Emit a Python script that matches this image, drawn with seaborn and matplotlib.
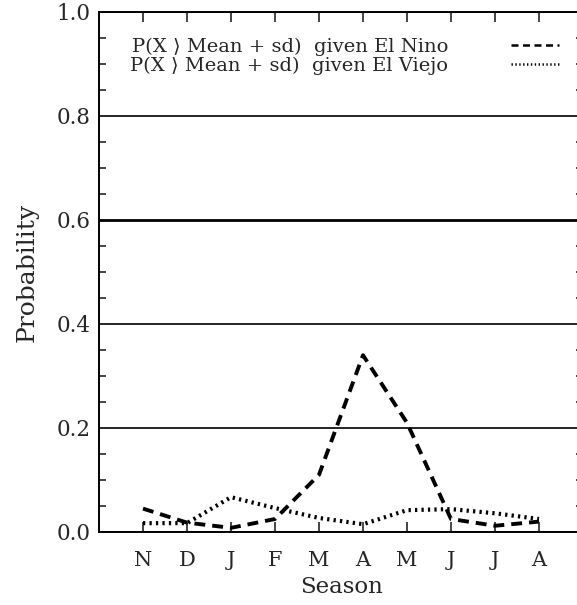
import numpy as np
import pandas as pd
import matplotlib
matplotlib.use('Agg')
import matplotlib.pyplot as plt
from matplotlib.ticker import MultipleLocator, FormatStrFormatter
import seaborn as sns

# valeurs
seasons = ['N', 'D', 'J', 'F', 'M', 'A', 'M', 'J', 'J', 'A']
x_pos = np.arange(1, len(seasons) + 1)
p_nino = [0.045, 0.018, 0.008, 0.025, 0.11, 0.34, 0.21, 0.025, 0.012, 0.02]
p_viejo = [0.017, 0.017, 0.067, 0.046, 0.027, 0.015, 0.042, 0.044, 0.036, 0.025]

lab_nino = 'P(X \u27e9 Mean + sd)  given El Nino'
lab_viejo = 'P(X \u27e9 Mean + sd)  given El Viejo'

df = pd.DataFrame({'x': np.concatenate([x_pos, x_pos]),
                   'p': p_nino + p_viejo,
                   'serie': [lab_nino] * len(x_pos) + [lab_viejo] * len(x_pos)})

sns.set_style('ticks')
plt.rcParams['font.family'] = ['DejaVu Serif', 'DejaVu Sans']

fig = plt.figure(figsize=(5.77, 6.05), dpi=100)
ax = fig.add_axes([99 / 577, 73 / 605, 484 / 577, 520 / 605])

sns.lineplot(data=df[df['serie'] == lab_nino], x='x', y='p', ax=ax, color='black',
             linewidth=2.8, label=lab_nino)
sns.lineplot(data=df[df['serie'] == lab_viejo], x='x', y='p', ax=ax, color='black',
             linewidth=3.0, label=lab_viejo)
ax.lines[0].set_linestyle((0, (2.8, 1.8)))
ax.lines[1].set_linestyle((0, (0.55, 1.0)))

ax.set_xlim(0, 11)
ax.set_ylim(0, 1.0)
ax.set_xticks(x_pos)
ax.set_xticklabels(seasons)
ax.yaxis.set_major_locator(MultipleLocator(0.2))
ax.yaxis.set_minor_locator(MultipleLocator(0.05))
ax.yaxis.set_major_formatter(FormatStrFormatter('%.1f'))

ax.tick_params(axis='x', which='major', direction='in', top=True, bottom=True,
               length=7, width=1.2, labelsize=15, pad=14)
ax.tick_params(axis='y', which='major', length=0, labelsize=15.5, pad=6)
ax.tick_params(axis='y', which='minor', direction='in', left=True, right=True,
               length=5, width=1.2)

ax.yaxis.grid(True, which='major', color='black', linewidth=1.2)

for s in ax.spines.values():
    s.set_linewidth(1.4)
    s.set_color('black')

ax.set_xlabel('Season', fontsize=16.5, labelpad=4)
ax.set_ylabel('Probability', fontsize=18, labelpad=13)

leg = ax.legend(loc='upper left', bbox_to_anchor=(0.065, 0.95), frameon=False,
                markerfirst=False, fontsize=14, handlelength=2.5, handletextpad=3.2,
                labelspacing=0.02, borderpad=0, borderaxespad=0)
for h in leg.get_lines():
    h.set_linewidth(1.8)

# la ligne 0.6 est plus epaisse sur l'original
fig.canvas.draw()
for tick in ax.yaxis.get_major_ticks():
    if abs(tick.get_loc() - 0.6) < 1e-6:
        tick.gridline.set_linewidth(2.0)

fig.savefig('out.png', dpi=100)
